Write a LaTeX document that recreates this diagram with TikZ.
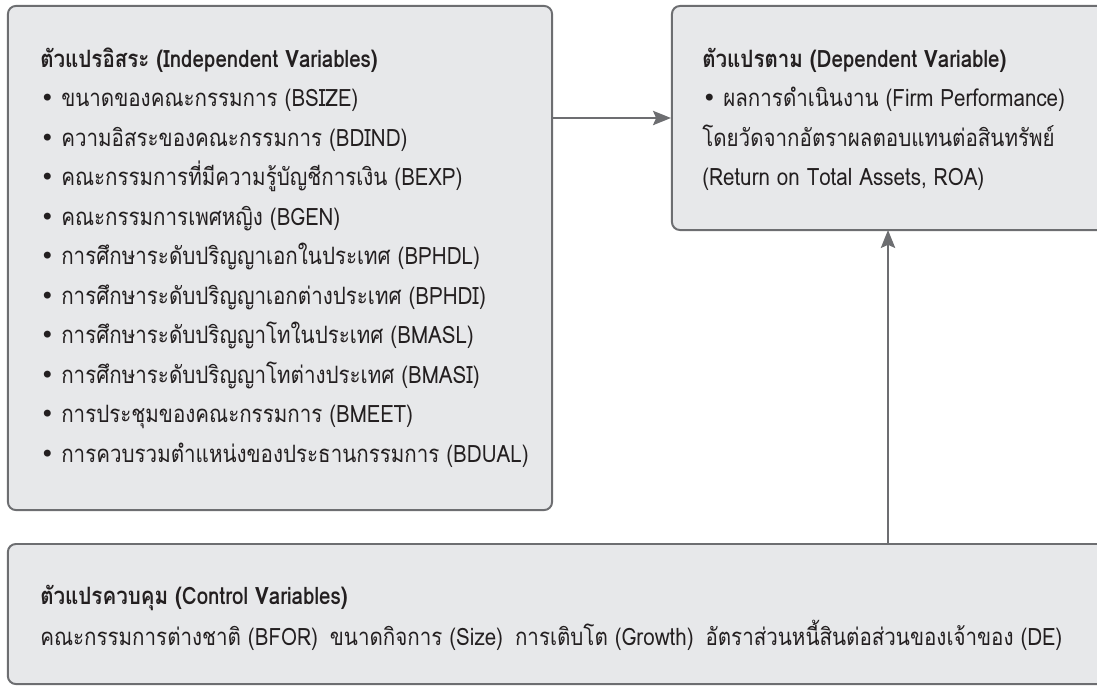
\documentclass[tikz,border=0pt]{standalone}
\usepackage{fontspec}
\setmainfont[Script=Thai,FakeStretch=0.86]{Loma}
\newfontfamily\bulfont{DejaVu Sans}
\usetikzlibrary{arrows.meta}

\definecolor{boxfill}{HTML}{E7E8EA}
\definecolor{boxline}{HTML}{6D6E71}
\definecolor{txt}{HTML}{231F20}
\newcommand{\bul}{{\bulfont •}\ }

\begin{document}
\begin{tikzpicture}[
x=0.025cm, y=-0.025cm,
font=\fontsize{17}{20}\selectfont, text=txt,
varbox/.style={rectangle, rounded corners=0.2cm, draw=boxline, line width=1.4pt, fill=boxfill},
hdr/.style={anchor=base west, inner sep=0, font=\fontsize{17}{20}\selectfont\bfseries},
itm/.style={anchor=base west, inner sep=0},
arr/.style={draw=boxline, line width=1.1pt, -{Stealth[length=0.45cm, width=0.36cm, inset=0.08cm]}},
]
\useasboundingbox (0,0) rectangle (1097,685);

% Boxes (right ends run off the page)
\node[varbox, minimum width=13.6cm, minimum height=12.6cm] (indep) at (280,258) {};
\node[varbox, minimum width=11.5cm, minimum height=5.6cm] (dep) at (902,118) {};
\node[varbox, minimum width=28cm, minimum height=3.5cm] (ctrl) at (568,614) {};
\coordinate (depin) at (888,230);

% Independent variables
\node[hdr] (indeph) at (40,67) {ตัวแปรอิสระ (Independent Variables)};
\foreach \t [count=\i] in {%
  ขนาดของคณะกรรมการ (BSIZE),
  ความอิสระของคณะกรรมการ (BDIND),
  คณะกรรมการที่มีความรู้บัญชีการเงิน (BEXP),
  คณะกรรมการเพศหญิง (BGEN),
  การศึกษาระดับปริญญาเอกในประเทศ (BPHDL),
  การศึกษาระดับปริญญาเอกต่างประเทศ (BPHDI),
  การศึกษาระดับปริญญาโทในประเทศ (BMASL),
  การศึกษาระดับปริญญาโทต่างประเทศ (BMASI),
  การประชุมของคณะกรรมการ (BMEET),
  การควบรวมตำแหน่งของประธานกรรมการ (BDUAL)}
  \node[itm] (ind\i) at (40,{106.5+39.5*(\i-1)}) {\bul\t};

% Dependent variable
\node[hdr] (deph) at (702,67) {ตัวแปรตาม (Dependent Variable)};
\node[itm] (dep1) at (702,106.5) {\bul ผลการดำเนินงาน (Firm Performance)};
\node[itm] (dep2) at (702,146) {โดยวัดจากอัตราผลตอบแทนต่อสินทรัพย์};
\node[itm] (dep3) at (702,185.5) {(Return on Total Assets, ROA)};

% Control variables
\node[hdr] (ctrlh) at (40,604) {ตัวแปรควบคุม (Control Variables)};
\node[itm] (ctrl1) at (40,645) {คณะกรรมการต่างชาติ (BFOR)\hspace{0.5em}ขนาดกิจการ (Size)\hspace{0.5em}การเติบโต (Growth)\hspace{0.5em}อัตราส่วนหนี้สินต่อส่วนของเจ้าของ (DE)};

% Arrows
\draw[arr] (indep.east |- dep.west) -- (dep.west);
\draw[arr] (ctrl.north -| depin) -- (depin);
\end{tikzpicture}
\end{document}
